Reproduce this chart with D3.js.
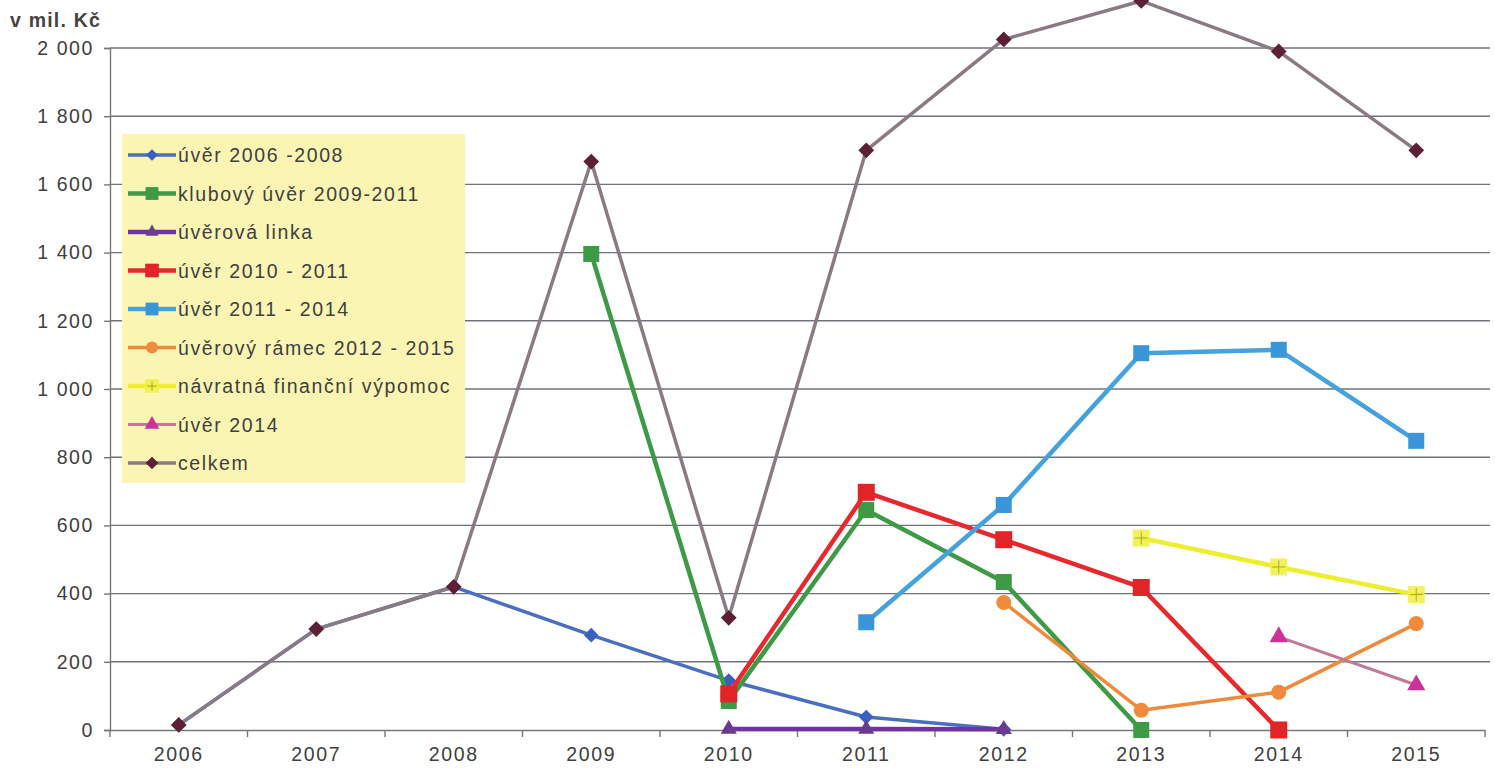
<!DOCTYPE html>
<html><head><meta charset="utf-8">
<script src="https://cdn.jsdelivr.net/npm/d3@7"></script>
<style>
body{margin:0;background:#fff;}
svg{display:block;font-family:"Liberation Sans",Arial,sans-serif;}
</style></head><body>
<svg id="c" width="1495" height="774"></svg>
<script>
const years = ["2006","2007","2008","2009","2010","2011","2012","2013","2014","2015"];
const yTicks = [0,200,400,600,800,1000,1200,1400,1600,1800,2000];
const seriesNames = ["úvěr 2006 -2008","klubový úvěr 2009-2011","úvěrová linka","úvěr 2010 - 2011","úvěr 2011 - 2014","úvěrový rámec 2012 - 2015","návratná finanční výpomoc","úvěr 2014","celkem"];
const uver0608   = [15,296,420,278,145,38,2,null,null,null];
const klubovy    = [null,null,null,1396,85,645,434,0,null,null];
const linka      = [null,null,null,null,3,3,2,null,null,null];
const uver1011   = [null,null,null,null,106,697,558,418,0,null];
const uver1114   = [null,null,null,null,null,316,660,1105,1115,848];
const ramec      = [null,null,null,null,null,null,374,58,111,312];
const navratna   = [null,null,null,null,null,null,null,563,478,397];
const uver2014   = [null,null,null,null,null,null,null,null,273,132];
const celkem     = [15,296,420,1667,329,1700,2025,2138,1990,1700];

const seriesData = [uver0608,klubovy,linka,uver1011,uver1114,ramec,navratna,uver2014,celkem];
const styles = [
  {line:"#4a6fc0", fill:"#3a5fc0", w:3.5, m:"diamond", s:14},
  {line:"#3e9a45", fill:"#3e9a45", w:4.5, m:"square", s:16},
  {line:"#7034a0", fill:"#6a3a90", w:4.5, m:"triangle", s:15},
  {line:"#e8282c", fill:"#e02428", w:4.5, m:"square", s:17},
  {line:"#45a2dc", fill:"#3a96d8", w:4.5, m:"square", s:16},
  {line:"#ef8a3a", fill:"#f08a3c", w:3.5, m:"circle", s:15},
  {line:"#eeee30", fill:"#f0f040", w:4.5, m:"plus", s:17},
  {line:"#c07a98", fill:"#cc3399", w:3, m:"triangle", s:17},
  {line:"#8a7a84", fill:"#5c1f36", w:3.5, m:"diamond", s:15}
];

const FS = "19.5px", LS = "1.6px", TXT = "#404040";
const svg = d3.select("#c");
const x = d3.scaleBand().domain(years).range([110,1485]).padding(0);
const y = d3.scaleLinear().domain([0,2000]).range([730,48]);
const fmt = d3.formatLocale({decimal:",",thousands:" ",grouping:[3],currency:["",""]}).format(",d");

// gridlines
svg.append("g").selectAll("line").data(yTicks.filter(d=>d>0)).join("line")
  .attr("x1",110).attr("x2",1490).attr("y1",d=>y(d)).attr("y2",d=>y(d))
  .attr("stroke","#72727a").attr("stroke-width",1.4);

// y axis
const ya = svg.append("g").attr("transform","translate(110,0)")
  .call(d3.axisLeft(y).tickValues(yTicks).tickSize(6).tickPadding(10).tickFormat(fmt));
ya.select(".domain").attr("stroke","#777").attr("stroke-width",1.4);
ya.selectAll(".tick line").attr("stroke","#777").attr("stroke-width",1.4);
ya.selectAll("text").attr("fill",TXT).attr("font-size",FS).attr("letter-spacing",LS);

// x axis
const xa = svg.append("g").attr("transform","translate(0,730)")
  .call(d3.axisBottom(x).tickSize(0).tickPadding(17));
xa.select(".domain").attr("stroke","#777").attr("stroke-width",1.4);
xa.selectAll("text").attr("fill",TXT).attr("font-size",FS).attr("letter-spacing",LS);
svg.append("g").selectAll("line").data(years.concat(["end"])).join("line")
  .attr("x1",(d,i)=>110+i*x.bandwidth()).attr("x2",(d,i)=>110+i*x.bandwidth())
  .attr("y1",730).attr("y2",737).attr("stroke","#777").attr("stroke-width",1.4);

svg.append("text").attr("x",10).attr("y",27).attr("font-size",FS).attr("font-weight","bold")
  .attr("letter-spacing","1.2px").attr("fill","#444").text("v mil. Kč");

function marker(g, type, s, fill){
  if(type==="diamond"){
    g.append("path").attr("d",d3.symbol(d3.symbolSquare, s*s*0.55)()).attr("transform","rotate(45)").attr("fill",fill);
  } else if(type==="square"){
    g.append("rect").attr("x",-s/2).attr("y",-s/2).attr("width",s).attr("height",s).attr("fill",fill);
  } else if(type==="triangle"){
    g.append("path").attr("d",d3.symbol(d3.symbolTriangle, s*s*0.5)()).attr("fill",fill);
  } else if(type==="circle"){
    g.append("circle").attr("r",s/2).attr("fill",fill);
  } else if(type==="plus"){
    g.append("rect").attr("x",-s/2).attr("y",-s/2).attr("width",s).attr("height",s).attr("fill",fill).attr("opacity",0.85);
    g.append("path").attr("d",`M${-s/2+2},0H${s/2-2}M0,${-s/2+2}V${s/2-2}`).attr("stroke","#b0a830").attr("stroke-width",1);
  }
}

const line = d3.line().defined(d=>d.v!=null).x(d=>x(d.k)+x.bandwidth()/2).y(d=>y(d.v));
seriesData.forEach((arr,i)=>{
  const st = styles[i];
  const pts = years.map((k,j)=>({k,v:arr[j]}));
  const g = svg.append("g");
  g.append("path").datum(pts).attr("d",line).attr("fill","none")
    .attr("stroke",st.line).attr("stroke-width",st.w).attr("stroke-linejoin","round");
  pts.filter(d=>d.v!=null).forEach(d=>{
    const mg = g.append("g").attr("transform",`translate(${x(d.k)+x.bandwidth()/2},${y(d.v)})`);
    marker(mg, st.m, st.s, st.fill);
  });
});

// legend
const lg = svg.append("g");
lg.append("rect").attr("x",122).attr("y",134).attr("width",343).attr("height",349).attr("fill","#fbf5b4");
seriesNames.forEach((n,i)=>{
  const st = styles[i];
  const cy = 155 + i*38.5;
  lg.append("line").attr("x1",128).attr("x2",176).attr("y1",cy).attr("y2",cy)
    .attr("stroke",st.line).attr("stroke-width",st.w);
  const mg = lg.append("g").attr("transform",`translate(152,${cy})`);
  marker(mg, st.m, st.s*0.8, st.fill);
  lg.append("text").attr("x",178).attr("y",cy+7).attr("font-size",FS).attr("letter-spacing",LS)
    .attr("fill",TXT).text(n);
});
</script></body></html>
